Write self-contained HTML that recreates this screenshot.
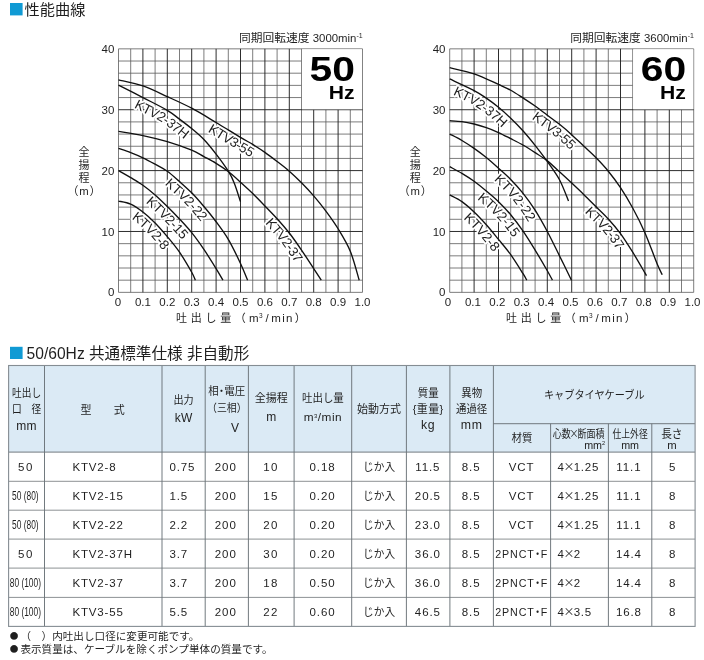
<!DOCTYPE html>
<html lang="ja">
<head>
<meta charset="utf-8">
<title>性能曲線・標準仕様</title>
<style>
html,body{margin:0;padding:0;background:#fff;}
body{width:704px;height:660px;overflow:hidden;}
svg{display:block;}
svg{will-change:transform;}
svg text{font-family:"Liberation Sans", "Noto Sans CJK JP", sans-serif;}
</style>
</head>
<body>
<svg width="704" height="660" viewBox="0 0 704 660">
<defs>
<path id="a-KTV2-37H" d="M112.58,96.65L114.05,97.39L115.92,98.35L118.13,99.47L120.60,100.73L123.27,102.09L126.06,103.51L128.89,104.96L131.69,106.40L134.40,107.79L136.93,109.10L139.47,110.41L142.08,111.74L144.71,113.08L147.34,114.41L149.92,115.73L152.42,117.02L154.79,118.27L157.00,119.45L158.98,120.54L160.69,121.53L162.13,122.40L163.34,123.18L164.39,123.89L165.32,124.57L166.21,125.24L167.11,125.95L168.08,126.72L169.15,127.58L170.36,128.53L171.69,129.56L172.94,130.49L174.15,131.39L175.35,132.29L176.54,133.19L177.71,134.07L178.86,134.96L180.01,135.85L181.14,136.75L182.26,137.66L183.38,138.58L184.60,139.60L185.80,140.60L186.97,141.59L188.12,142.56L189.23,143.53L190.32,144.50L191.39,145.47L192.44,146.47L193.47,147.48L194.50,148.53L195.56,149.66L196.64,150.85L197.74,152.10L198.85,153.41L199.98,154.76L201.12,156.16L202.28,157.59L203.44,159.06L204.62,160.57L205.80,162.10L207.01,163.67L208.25,165.31L209.52,167.01L210.79,168.73L212.04,170.45L213.25,172.14L214.41,173.79L215.48,175.35L216.45,176.81L217.29,178.12L218.05,179.35L218.69,180.42L219.22,181.35L219.67,182.19L220.08,182.98L220.46,183.79L220.86,184.67L221.30,185.68L221.78,186.85L222.32,188.19L222.84,189.56L223.45,191.24L224.10,193.15L224.78,195.18L225.46,197.26L226.11,199.30L226.72,201.24L227.28,202.99L227.76,204.50L228.16,205.73L228.16,205.73"/>
<path id="a-KTV3-55" d="M115.63,91.65L117.28,92.04L119.24,92.47L121.45,92.95L123.89,93.49L126.48,94.07L129.15,94.69L131.82,95.35L134.41,96.04L136.83,96.74L138.98,97.43L141.10,98.19L143.27,99.04L145.50,99.96L147.77,100.94L150.09,101.98L152.45,103.07L154.84,104.19L157.28,105.33L159.77,106.49L162.28,107.65L164.75,108.77L167.19,109.87L169.62,110.97L172.02,112.07L174.40,113.16L176.76,114.27L179.11,115.39L181.43,116.53L183.74,117.70L186.03,118.89L188.32,120.13L190.63,121.41L192.96,122.75L195.32,124.12L197.70,125.54L200.09,126.97L202.51,128.44L204.95,129.91L207.41,131.40L209.88,132.89L212.33,134.36L214.87,135.91L217.48,137.50L220.10,139.12L222.71,140.72L225.27,142.30L227.74,143.82L230.09,145.26L232.28,146.59L234.29,147.81L236.09,148.87L237.69,149.80L239.11,150.61L240.38,151.32L241.51,151.95L242.54,152.52L243.49,153.05L244.42,153.58L245.37,154.13L246.40,154.75L247.57,155.47L248.74,156.20L249.91,156.93L251.08,157.67L252.24,158.41L253.39,159.16L254.54,159.92L255.69,160.69L256.83,161.47L257.97,162.26L259.10,163.05L260.23,163.87L261.38,164.71L262.54,165.57L263.71,166.45L264.89,167.34L266.08,168.25L267.28,169.17L268.48,170.10L269.70,171.04L270.94,172.00L272.16,172.94L273.37,173.87L274.55,174.79L275.72,175.70L276.88,176.61L278.01,177.53L279.14,178.45L280.24,179.38L281.34,180.33L282.47,181.32L283.61,182.35L284.76,183.39L285.91,184.46L287.06,185.55L288.22,186.66L289.38,187.79L290.55,188.94L291.72,190.10L292.90,191.29L294.09,192.49L295.26,193.70L296.44,194.91L297.61,196.13L298.77,197.37L299.93,198.61L301.09,199.87L302.24,201.15L303.39,202.45L304.54,203.77L305.70,205.13L306.87,206.51L308.04,207.91L309.20,209.33L310.37,210.77L311.53,212.23L312.70,213.71L313.86,215.21L315.02,216.74L316.19,218.30L317.40,219.93L318.59,221.55L319.78,223.16L320.95,224.78L322.10,226.41L323.25,228.06L324.38,229.74L325.51,231.45L326.64,233.20L327.77,235.03L329.01,237.07L330.25,239.11L331.48,241.15L332.69,243.19L333.87,245.24L335.01,247.31L336.12,249.40L337.17,251.52L338.17,253.67L339.10,255.84L340.00,258.17L340.96,260.93L341.95,264.00L342.93,267.22L343.89,270.48L344.80,273.66L345.63,276.67L346.39,279.39L347.06,281.75L347.62,283.68L347.62,283.68"/>
<path id="a-KTV2-22" d="M114.53,159.81L115.33,160.09L116.30,160.41L117.40,160.79L118.63,161.20L119.93,161.64L121.28,162.10L122.64,162.58L123.97,163.05L125.22,163.50L126.35,163.93L127.50,164.38L128.66,164.84L129.82,165.30L130.96,165.77L132.10,166.25L133.24,166.73L134.37,167.22L135.49,167.72L136.61,168.23L137.72,168.75L138.81,169.28L139.92,169.83L141.04,170.39L142.18,170.98L143.33,171.59L144.50,172.21L145.67,172.84L146.86,173.49L148.06,174.15L149.29,174.82L150.61,175.54L151.89,176.22L153.12,176.86L154.29,177.48L155.40,178.08L156.46,178.67L157.48,179.26L158.45,179.85L159.38,180.45L160.29,181.07L161.23,181.76L162.22,182.53L163.25,183.37L164.33,184.27L165.44,185.23L166.59,186.24L167.77,187.29L168.97,188.38L170.21,189.49L171.47,190.61L172.71,191.71L173.93,192.78L175.13,193.84L176.31,194.89L177.47,195.94L178.61,196.99L179.74,198.04L180.86,199.10L181.96,200.18L183.05,201.28L184.16,202.43L185.29,203.63L186.42,204.86L187.57,206.13L188.73,207.43L189.90,208.76L191.08,210.12L192.26,211.50L193.45,212.90L194.65,214.32L195.85,215.75L197.05,217.17L198.23,218.60L199.41,220.04L200.59,221.48L201.76,222.94L202.92,224.41L204.08,225.90L205.23,227.41L206.39,228.96L207.62,230.61L208.84,232.24L210.03,233.84L211.19,235.43L212.34,237.02L213.46,238.63L214.58,240.26L215.68,241.94L216.77,243.68L217.86,245.50L218.98,247.46L220.16,249.63L221.39,251.96L222.64,254.38L223.89,256.87L225.12,259.36L226.32,261.83L227.47,264.22L228.56,266.49L229.55,268.59L230.43,270.48L231.28,272.38L232.09,274.27L232.87,276.11L233.60,277.88L234.28,279.56L234.90,281.11L235.46,282.52L235.97,283.77L236.42,284.85L236.42,284.85"/>
<path id="a-KTV2-15" d="M112.49,181.10L113.25,181.54L114.20,182.07L115.31,182.70L116.54,183.40L117.86,184.14L119.23,184.93L120.62,185.72L121.99,186.51L123.29,187.27L124.50,187.99L125.75,188.73L126.98,189.46L128.19,190.18L129.36,190.88L130.51,191.57L131.63,192.26L132.73,192.95L133.80,193.65L134.86,194.35L135.89,195.08L136.98,195.86L138.08,196.67L139.19,197.52L140.31,198.38L141.43,199.27L142.56,200.19L143.70,201.13L144.84,202.09L145.99,203.06L147.14,204.06L148.25,205.05L149.38,206.07L150.52,207.12L151.67,208.20L152.83,209.30L154.01,210.43L155.19,211.58L156.39,212.75L157.59,213.94L158.81,215.13L160.00,216.32L161.20,217.50L162.39,218.69L163.58,219.89L164.76,221.09L165.94,222.31L167.12,223.53L168.30,224.75L169.48,225.99L170.65,227.25L171.88,228.56L173.09,229.86L174.29,231.15L175.47,232.43L176.63,233.70L177.78,234.98L178.92,236.27L180.04,237.57L181.15,238.90L182.26,240.26L183.39,241.69L184.54,243.17L185.69,244.68L186.84,246.24L188.01,247.83L189.17,249.45L190.35,251.10L191.52,252.79L192.71,254.50L193.89,256.23L195.06,257.98L196.29,259.85L197.55,261.79L198.83,263.79L200.10,265.79L201.35,267.79L202.56,269.73L203.72,271.60L204.81,273.35L205.81,274.97L206.70,276.42L207.55,277.82L208.35,279.17L209.11,280.46L209.82,281.67L210.47,282.80L211.07,283.84L211.61,284.77L212.09,285.60L212.50,286.31L212.50,286.31"/>
<path id="a-KTV2-8" d="M115.70,212.81L116.85,213.06L117.98,213.28L119.10,213.48L120.25,213.69L121.40,213.92L122.53,214.16L123.59,214.42L124.53,214.68L125.27,214.93L125.78,215.13L126.49,215.48L127.31,215.91L128.18,216.41L129.11,216.98L130.08,217.61L131.10,218.30L132.15,219.05L133.23,219.85L134.35,220.69L135.49,221.56L136.56,222.40L137.63,223.27L138.71,224.18L139.80,225.12L140.90,226.10L142.01,227.11L143.12,228.15L144.24,229.23L145.37,230.33L146.50,231.46L147.60,232.59L148.72,233.77L149.84,234.98L150.98,236.24L152.13,237.53L153.29,238.85L154.46,240.20L155.64,241.58L156.82,242.98L158.02,244.41L159.25,245.88L160.46,247.32L161.65,248.75L162.82,250.17L163.97,251.59L165.10,253.02L166.22,254.46L167.33,255.94L168.43,257.45L169.52,259.01L170.64,260.69L171.87,262.59L173.15,264.63L174.45,266.75L175.75,268.90L177.01,271.03L178.21,273.08L179.33,275.00L180.32,276.73L181.16,278.21L181.77,279.30L182.24,280.20L182.60,280.96L182.89,281.58L183.11,282.10L183.30,282.56L183.48,283.04L183.69,283.60L183.97,284.32L184.33,285.15L184.33,285.15"/>
<path id="a-KTV2-37" d="M116.44,143.26L117.98,143.52L119.88,143.83L122.09,144.19L124.55,144.59L127.19,145.02L129.93,145.48L132.70,145.96L135.43,146.46L138.02,146.95L140.40,147.44L142.77,147.94L145.14,148.47L147.50,149.00L149.86,149.55L152.21,150.12L154.54,150.71L156.88,151.32L159.20,151.95L161.52,152.60L163.83,153.28L166.19,154.00L168.66,154.78L171.18,155.61L173.73,156.47L176.26,157.34L178.72,158.22L181.09,159.08L183.31,159.91L185.34,160.70L187.12,161.41L188.55,162.01L189.75,162.56L190.78,163.06L191.69,163.54L192.57,164.03L193.47,164.55L194.45,165.13L195.54,165.78L196.78,166.49L198.16,167.25L199.45,167.94L200.69,168.60L201.91,169.24L203.11,169.87L204.28,170.50L205.43,171.11L206.55,171.73L207.65,172.35L208.73,172.98L209.80,173.63L210.96,174.34L212.12,175.06L213.26,175.78L214.39,176.50L215.50,177.24L216.60,177.98L217.69,178.73L218.77,179.49L219.84,180.28L220.89,181.08L221.93,181.90L222.99,182.77L224.08,183.69L225.20,184.67L226.35,185.68L227.52,186.73L228.71,187.81L229.92,188.91L231.16,190.03L232.41,191.16L233.63,192.26L234.84,193.35L236.04,194.43L237.24,195.52L238.42,196.60L239.60,197.69L240.78,198.78L241.94,199.88L243.11,200.98L244.26,202.10L245.41,203.23L246.57,204.38L247.74,205.56L248.92,206.77L250.11,207.99L251.31,209.23L252.52,210.49L253.73,211.76L254.96,213.03L256.20,214.31L257.44,215.60L258.67,216.86L259.89,218.12L261.10,219.36L262.30,220.59L263.48,221.82L264.65,223.05L265.81,224.29L266.97,225.53L268.12,226.80L269.31,228.13L270.51,229.46L271.69,230.80L272.87,232.14L274.03,233.48L275.19,234.83L276.34,236.20L277.48,237.58L278.62,238.99L279.75,240.43L280.89,241.91L282.03,243.43L283.19,245.00L284.36,246.61L285.53,248.25L286.71,249.93L287.90,251.64L289.10,253.37L290.31,255.12L291.51,256.87L292.71,258.63L293.94,260.47L295.20,262.38L296.48,264.32L297.75,266.27L299.00,268.20L300.23,270.09L301.41,271.91L302.53,273.63L303.58,275.24L304.56,276.73L305.51,278.18L306.42,279.58L307.29,280.92L308.12,282.17L308.87,283.33L309.57,284.39L310.18,285.33L310.70,286.14L311.14,286.80L311.14,286.80"/>
<path id="b-KTV2-37H" d="M444.20,90.65L445.76,91.38L447.80,92.33L450.20,93.44L452.86,94.67L455.69,95.98L458.56,97.33L461.36,98.65L463.98,99.91L466.28,101.04L468.12,101.98L469.65,102.80L470.96,103.52L472.07,104.17L473.05,104.76L473.94,105.33L474.81,105.90L475.71,106.52L476.69,107.19L477.78,107.95L478.99,108.79L480.15,109.59L481.29,110.39L482.43,111.20L483.56,112.02L484.69,112.86L485.82,113.71L486.94,114.57L488.06,115.45L489.18,116.34L490.30,117.25L491.42,118.18L492.55,119.14L493.68,120.12L494.82,121.12L495.96,122.14L497.11,123.19L498.27,124.25L499.43,125.33L500.59,126.43L501.76,127.55L502.94,128.69L504.12,129.83L505.29,130.98L506.45,132.14L507.60,133.30L508.75,134.48L509.90,135.68L511.04,136.89L512.18,138.11L513.31,139.36L514.45,140.64L515.60,141.94L516.75,143.28L517.91,144.65L519.08,146.05L520.25,147.47L521.43,148.91L522.61,150.37L523.80,151.86L525.00,153.36L526.19,154.87L527.38,156.38L528.57,157.90L529.75,159.44L530.93,160.98L532.10,162.54L533.28,164.11L534.45,165.70L535.61,167.30L536.79,168.95L538.06,170.73L539.33,172.49L540.59,174.23L541.81,175.94L543.00,177.63L544.14,179.30L545.24,180.96L546.27,182.60L547.24,184.22L548.13,185.82L548.98,187.49L549.91,189.47L550.88,191.67L551.85,193.98L552.80,196.33L553.71,198.62L554.56,200.79L555.33,202.78L556.02,204.53L556.62,206.01L556.62,206.01"/>
<path id="b-KTV3-55" d="M446.83,79.48L448.48,79.86L450.44,80.30L452.65,80.78L455.09,81.31L457.68,81.89L460.35,82.52L463.02,83.18L465.61,83.87L468.03,84.56L470.18,85.26L472.31,86.03L474.62,86.94L477.05,87.95L479.53,89.03L482.04,90.16L484.52,91.31L486.94,92.44L489.27,93.53L491.48,94.56L493.53,95.49L495.28,96.28L496.80,96.95L498.11,97.54L499.26,98.06L500.28,98.52L501.19,98.95L502.06,99.37L502.92,99.81L503.85,100.29L504.87,100.85L505.91,101.43L506.97,102.05L508.06,102.70L509.17,103.39L510.31,104.11L511.46,104.85L512.64,105.61L513.85,106.40L515.07,107.20L516.31,108.00L517.51,108.79L518.71,109.57L519.90,110.35L521.08,111.13L522.26,111.92L523.44,112.71L524.61,113.51L525.77,114.31L526.93,115.12L528.09,115.93L529.22,116.75L530.36,117.58L531.53,118.44L532.70,119.33L533.89,120.22L535.10,121.14L536.31,122.07L537.55,123.00L538.79,123.94L540.05,124.89L541.32,125.84L542.58,126.76L543.81,127.67L545.03,128.56L546.23,129.44L547.41,130.31L548.57,131.18L549.71,132.04L550.84,132.91L551.96,133.79L553.11,134.73L554.28,135.67L555.44,136.63L556.61,137.60L557.77,138.58L558.94,139.58L560.11,140.59L561.28,141.61L562.44,142.64L563.61,143.68L564.74,144.71L565.89,145.77L567.05,146.86L568.23,147.98L569.42,149.12L570.62,150.28L571.84,151.45L573.07,152.64L574.32,153.83L575.58,155.03L576.85,156.24L578.11,157.41L579.35,158.55L580.57,159.68L581.76,160.78L582.94,161.88L584.09,162.97L585.23,164.06L586.34,165.16L587.46,166.28L588.64,167.50L589.82,168.72L590.99,169.94L592.15,171.17L593.30,172.41L594.44,173.66L595.57,174.92L596.70,176.21L597.82,177.53L598.94,178.88L600.10,180.30L601.26,181.75L602.41,183.22L603.56,184.71L604.71,186.23L605.85,187.78L606.99,189.36L608.13,190.98L609.27,192.63L610.41,194.33L611.57,196.10L612.73,197.90L613.89,199.74L615.06,201.63L616.22,203.55L617.39,205.51L618.55,207.52L619.72,209.57L620.89,211.66L622.06,213.80L623.25,216.02L624.44,218.25L625.63,220.50L626.80,222.79L627.98,225.11L629.15,227.48L630.32,229.90L631.49,232.38L632.65,234.93L633.81,237.54L634.98,240.28L636.23,243.33L637.52,246.58L638.83,249.96L640.13,253.38L641.42,256.75L642.65,260.01L643.82,263.06L644.91,265.86L645.91,268.34L646.80,270.45L647.60,272.30L648.33,273.92L648.99,275.33L649.59,276.54L650.11,277.58L650.55,278.43L650.90,279.09L651.13,279.56L651.29,279.88L651.29,279.88"/>
<path id="b-KTV2-22" d="M444.12,144.81L444.94,145.23L445.92,145.73L447.03,146.29L448.25,146.90L449.54,147.55L450.87,148.24L452.21,148.94L453.50,149.63L454.71,150.29L455.79,150.91L456.89,151.56L458.00,152.24L459.13,152.94L460.26,153.66L461.39,154.39L462.54,155.14L463.69,155.91L464.84,156.69L466.00,157.49L467.17,158.30L468.34,159.12L469.50,159.95L470.66,160.78L471.82,161.62L472.97,162.48L474.12,163.34L475.26,164.21L476.40,165.10L477.54,166.00L478.68,166.91L479.79,167.83L480.92,168.77L482.07,169.75L483.22,170.75L484.39,171.78L485.57,172.82L486.77,173.89L487.97,174.97L489.19,176.06L490.42,177.17L491.67,178.29L492.91,179.39L494.12,180.47L495.31,181.53L496.48,182.58L497.63,183.63L498.76,184.67L499.87,185.73L500.97,186.80L502.06,187.89L503.21,189.08L504.37,190.29L505.52,191.51L506.66,192.75L507.80,194.00L508.93,195.27L510.06,196.57L511.18,197.90L512.30,199.25L513.43,200.65L514.58,202.12L515.74,203.61L516.89,205.13L518.04,206.67L519.18,208.24L520.33,209.85L521.47,211.49L522.61,213.17L523.75,214.89L524.89,216.66L526.03,218.48L527.18,220.36L528.34,222.31L529.51,224.30L530.68,226.35L531.86,228.44L533.05,230.57L534.24,232.74L535.43,234.94L536.63,237.17L537.80,239.39L538.98,241.67L540.17,244.01L541.36,246.40L542.57,248.82L543.78,251.28L544.99,253.75L546.21,256.24L547.44,258.72L548.66,261.20L549.91,263.73L551.24,266.43L552.62,269.23L554.01,272.06L555.37,274.85L556.68,277.51L557.89,279.98L558.97,282.18L559.88,284.05L560.59,285.51L560.59,285.51"/>
<path id="b-KTV2-15" d="M443.90,177.26L444.71,177.70L445.67,178.22L446.78,178.80L448.00,179.46L449.31,180.15L450.65,180.88L452.01,181.62L453.33,182.36L454.57,183.07L455.70,183.73L456.86,184.43L458.03,185.14L459.18,185.85L460.32,186.56L461.46,187.29L462.59,188.02L463.70,188.76L464.81,189.51L465.91,190.27L467.01,191.06L468.09,191.85L469.19,192.69L470.31,193.55L471.45,194.44L472.60,195.37L473.76,196.31L474.94,197.28L476.13,198.26L477.33,199.26L478.54,200.28L479.78,201.31L480.99,202.32L482.19,203.32L483.37,204.31L484.52,205.29L485.66,206.28L486.78,207.27L487.89,208.27L488.98,209.28L490.07,210.32L491.21,211.45L492.36,212.59L493.50,213.75L494.64,214.93L495.77,216.12L496.90,217.34L498.03,218.59L499.16,219.86L500.29,221.16L501.41,222.49L502.55,223.87L503.70,225.29L504.85,226.73L506.00,228.21L507.15,229.72L508.30,231.26L509.46,232.83L510.62,234.44L511.78,236.08L512.94,237.74L514.09,239.42L515.24,241.15L516.41,242.93L517.58,244.75L518.76,246.62L519.95,248.52L521.15,250.45L522.35,252.40L523.56,254.37L524.78,256.35L526.00,258.36L527.27,260.48L528.58,262.67L529.90,264.90L531.21,267.12L532.48,269.30L533.70,271.39L534.84,273.36L535.89,275.17L536.81,276.77L537.59,278.13L538.28,279.37L538.90,280.49L539.45,281.51L539.93,282.42L540.37,283.24L540.76,283.99L541.11,284.67L541.45,285.32L541.78,285.92L541.78,285.92"/>
<path id="b-KTV2-8" d="M443.95,205.60L444.91,206.10L445.96,206.63L447.07,207.18L448.26,207.78L449.49,208.41L450.74,209.06L451.96,209.72L453.11,210.38L454.13,211.01L454.99,211.58L455.94,212.26L456.94,213.02L457.97,213.83L459.03,214.70L460.11,215.61L461.21,216.57L462.32,217.57L463.46,218.61L464.61,219.68L465.77,220.77L466.89,221.84L468.01,222.94L469.14,224.08L470.27,225.25L471.42,226.45L472.58,227.68L473.74,228.93L474.91,230.21L476.08,231.51L477.26,232.82L478.40,234.12L479.55,235.45L480.72,236.82L481.89,238.21L483.07,239.64L484.27,241.09L485.47,242.56L486.68,244.04L487.90,245.54L489.14,247.05L490.40,248.59L491.65,250.09L492.88,251.55L494.08,252.99L495.25,254.42L496.41,255.83L497.54,257.25L498.66,258.69L499.77,260.15L500.86,261.65L501.99,263.26L503.21,265.07L504.49,267.01L505.80,269.02L507.10,271.06L508.38,273.07L509.59,275.01L510.72,276.83L511.75,278.48L512.65,279.92L513.35,281.03L513.91,281.95L514.37,282.73L514.75,283.37L515.05,283.90L515.30,284.36L515.53,284.78L515.76,285.21L516.03,285.70L516.32,286.22L516.32,286.22"/>
<path id="b-KTV2-37" d="M448.84,132.75L449.71,132.81L450.71,132.86L451.82,132.92L453.02,132.99L454.30,133.06L455.61,133.15L456.91,133.24L458.15,133.35L459.29,133.46L460.27,133.59L461.30,133.73L462.36,133.90L463.43,134.09L464.51,134.29L465.60,134.50L466.69,134.73L467.80,134.97L468.91,135.23L470.04,135.49L471.17,135.77L472.28,136.05L473.39,136.35L474.50,136.65L475.62,136.97L476.73,137.30L477.84,137.64L478.96,137.99L480.08,138.35L481.19,138.72L482.31,139.11L483.43,139.50L484.55,139.91L485.67,140.33L486.79,140.76L487.91,141.20L489.04,141.66L490.16,142.12L491.29,142.60L492.42,143.09L493.54,143.59L494.61,144.08L495.71,144.60L496.82,145.14L497.96,145.70L499.12,146.29L500.29,146.89L501.49,147.51L502.70,148.13L503.94,148.77L505.19,149.41L506.44,150.05L507.68,150.68L508.89,151.29L510.09,151.90L511.26,152.50L512.42,153.10L513.56,153.70L514.68,154.30L515.79,154.91L516.88,155.53L517.99,156.17L519.11,156.84L520.24,157.53L521.39,158.24L522.55,158.96L523.72,159.70L524.90,160.46L526.10,161.23L527.30,162.01L528.52,162.80L529.81,163.62L531.06,164.42L532.27,165.19L533.45,165.94L534.59,166.68L535.70,167.41L536.77,168.13L537.81,168.87L538.83,169.61L539.82,170.37L540.82,171.18L541.86,172.05L542.94,172.99L544.05,173.99L545.19,175.04L546.37,176.13L547.57,177.26L548.80,178.41L550.06,179.58L551.35,180.76L552.56,181.87L553.77,182.97L554.98,184.08L556.18,185.19L557.39,186.30L558.60,187.42L559.81,188.54L561.02,189.66L562.23,190.79L563.43,191.92L564.65,193.06L565.87,194.19L567.08,195.33L568.29,196.46L569.49,197.60L570.69,198.74L571.89,199.88L573.08,201.02L574.27,202.17L575.46,203.32L576.64,204.47L577.83,205.64L579.02,206.83L580.22,208.02L581.43,209.23L582.64,210.45L583.86,211.68L585.08,212.91L586.31,214.15L587.56,215.39L588.85,216.66L590.11,217.90L591.36,219.10L592.57,220.28L593.76,221.43L594.92,222.57L596.06,223.70L597.18,224.83L598.27,225.98L599.36,227.15L600.54,228.45L601.71,229.76L602.87,231.07L604.02,232.38L605.16,233.72L606.29,235.07L607.42,236.44L608.53,237.85L609.64,239.29L610.75,240.77L611.86,242.31L612.99,243.92L614.13,245.59L615.28,247.32L616.45,249.10L617.63,250.92L618.81,252.79L620.01,254.69L621.21,256.61L622.42,258.55L623.63,260.53L624.93,262.68L626.29,264.96L627.66,267.29L629.02,269.61L630.33,271.86L631.56,273.98L632.67,275.90L633.64,277.58L634.44,278.96L635.00,279.92L635.37,280.56L635.55,280.89L635.52,280.82L635.03,279.70L643.55,263.81L654.36,266.47L653.68,265.90L634.63,278.64L635.62,281.18L635.62,281.18"/>
</defs>
<rect width="704" height="660" fill="#fff"/>
<g fill="#1f1f1f">
<rect x="10" y="3" width="12.6" height="12.4" fill="#109ad4"/>
<text x="24.60" y="15.20" font-size="15.2">性能曲線</text>
<path d="M118.50,48.85V292.35M130.70,48.85V292.35M155.10,48.85V292.35M179.50,48.85V292.35M203.90,48.85V292.35M228.30,48.85V292.35M252.70,48.85V292.35M277.10,48.85V292.35M301.50,48.85V292.35M325.90,109.73V292.35M350.30,109.73V292.35M362.50,48.85V292.35M118.5,292.35H362.50M118.5,280.18H362.50M118.5,268.00H362.50M118.5,255.83H362.50M118.5,243.65H362.50M118.5,219.30H362.50M118.5,207.13H362.50M118.5,194.95H362.50M118.5,182.78H362.50M118.5,158.43H362.50M118.5,146.25H362.50M118.5,134.08H362.50M118.5,121.90H362.50M118.5,97.55H301.50M118.5,85.38H301.50M118.5,73.20H301.50M118.5,61.03H301.50M118.5,48.85H362.50" stroke="#5c5c5c" stroke-width="0.8" fill="none"/>
<path d="M142.90,48.85V292.35M167.30,48.85V292.35M191.70,48.85V292.35M216.10,48.85V292.35M240.50,48.85V292.35M264.90,48.85V292.35M289.30,48.85V292.35M313.70,109.73V292.35M338.10,109.73V292.35M118.5,231.48H362.50M118.5,170.60H362.50M118.5,109.73H362.50" stroke="#222" stroke-width="0.95" fill="none"/>
<rect x="301.95" y="49.30" width="60.10" height="59.93" fill="#fff"/>
<text font-size="13.5" letter-spacing="-0.45" fill="#fff" stroke="#fff" stroke-width="3.6" stroke-linejoin="round"><textPath href="#a-KTV2-37H" startOffset="23.82">KTV2-37H</textPath></text>
<text font-size="13.5" letter-spacing="-0.5" fill="#fff" stroke="#fff" stroke-width="3.6" stroke-linejoin="round"><textPath href="#a-KTV3-55" startOffset="100.68">KTV3-55</textPath></text>
<text font-size="13.5" letter-spacing="-0.15" fill="#fff" stroke="#fff" stroke-width="3.6" stroke-linejoin="round"><textPath href="#a-KTV2-22" startOffset="55.97">KTV2-22</textPath></text>
<text font-size="13.5" letter-spacing="-0.15" fill="#fff" stroke="#fff" stroke-width="3.6" stroke-linejoin="round"><textPath href="#a-KTV2-15" startOffset="39.50">KTV2-15</textPath></text>
<text font-size="13.5" letter-spacing="-0.15" fill="#fff" stroke="#fff" stroke-width="3.6" stroke-linejoin="round"><textPath href="#a-KTV2-8" startOffset="17.04">KTV2-8</textPath></text>
<text font-size="13.5" letter-spacing="-0.5" fill="#fff" stroke="#fff" stroke-width="3.6" stroke-linejoin="round"><textPath href="#a-KTV2-37" startOffset="173.48">KTV2-37</textPath></text>
<path d="M118.50,79.90C122.57,80.91 134.77,83.19 142.90,85.98C151.03,88.77 159.17,92.93 167.30,96.64C175.43,100.34 183.57,103.89 191.70,108.20C199.83,112.52 207.97,117.64 216.10,122.51C224.23,127.38 234.40,133.77 240.50,137.42C246.60,141.08 248.63,141.94 252.70,144.42C256.77,146.91 260.83,149.50 264.90,152.34C268.97,155.18 273.03,158.32 277.10,161.47C281.17,164.61 285.23,167.66 289.30,171.21C293.37,174.76 297.43,178.67 301.50,182.78C305.57,186.88 309.63,191.15 313.70,195.86C317.77,200.58 321.83,205.60 325.90,211.08C329.97,216.56 334.03,222.04 338.10,228.74C342.17,235.43 346.78,242.69 350.30,251.26C353.82,259.83 357.72,275.36 359.21,280.18" stroke="#111" stroke-width="1.35" fill="none"/>
<path d="M118.50,85.07C122.57,87.15 134.77,93.34 142.90,97.55C151.03,101.76 161.20,106.73 167.30,110.33C173.40,113.94 175.43,116.12 179.50,119.16C183.57,122.20 187.63,125.20 191.70,128.60C195.77,132.00 199.83,135.29 203.90,139.55C207.97,143.81 212.03,148.89 216.10,154.16C220.17,159.44 225.25,166.34 228.30,171.21C231.35,176.08 232.37,178.31 234.40,183.38C236.43,188.46 239.48,198.60 240.50,201.65" stroke="#111" stroke-width="1.35" fill="none"/>
<path d="M118.50,131.34C122.57,132.05 134.77,133.87 142.90,135.60C151.03,137.32 159.17,139.25 167.30,141.68C175.43,144.12 185.60,147.72 191.70,150.21C197.80,152.69 199.83,154.42 203.90,156.60C207.97,158.78 212.03,160.81 216.10,163.30C220.17,165.78 224.23,168.37 228.30,171.51C232.37,174.66 236.43,178.51 240.50,182.17C244.57,185.82 248.63,189.47 252.70,193.43C256.77,197.39 260.83,201.70 264.90,205.91C268.97,210.12 273.03,214.18 277.10,218.69C281.17,223.21 285.23,227.77 289.30,233.00C293.37,238.22 297.43,244.11 301.50,250.04C305.57,255.98 310.41,263.59 313.70,268.61C316.99,273.63 320.00,278.25 321.26,280.18" stroke="#111" stroke-width="1.35" fill="none"/>
<path d="M118.50,148.38C120.53,149.09 126.63,151.07 130.70,152.64C134.77,154.21 138.83,155.89 142.90,157.82C146.97,159.74 151.03,161.98 155.10,164.21C159.17,166.44 163.23,168.32 167.30,171.21C171.37,174.10 175.43,177.96 179.50,181.56C183.57,185.16 187.63,188.66 191.70,192.82C195.77,196.98 199.83,201.70 203.90,206.52C207.97,211.34 212.03,216.26 216.10,221.74C220.17,227.21 224.23,232.44 228.30,239.39C232.37,246.34 237.29,256.64 240.50,263.43C243.71,270.23 246.40,277.38 247.58,280.18" stroke="#111" stroke-width="1.35" fill="none"/>
<path d="M118.50,170.60C120.53,171.77 126.63,175.17 130.70,177.60C134.77,180.04 138.83,182.32 142.90,185.21C146.97,188.10 151.03,191.40 155.10,194.95C159.17,198.50 163.23,202.51 167.30,206.52C171.37,210.52 175.43,214.63 179.50,219.00C183.57,223.36 187.63,227.62 191.70,232.69C195.77,237.77 199.83,243.45 203.90,249.43C207.97,255.42 212.93,263.49 216.10,268.61C219.27,273.73 221.79,278.25 222.93,280.18" stroke="#111" stroke-width="1.35" fill="none"/>
<path d="M118.50,201.04C120.53,201.54 126.63,202.25 130.70,204.08C134.77,205.91 138.83,208.85 142.90,212.00C146.97,215.14 151.03,218.84 155.10,222.95C159.17,227.06 163.23,231.78 167.30,236.65C171.37,241.52 175.43,246.24 179.50,252.17C183.57,258.11 189.06,267.59 191.70,272.26C194.34,276.93 194.75,278.86 195.36,280.18" stroke="#111" stroke-width="1.35" fill="none"/>
<text font-size="13.5" letter-spacing="-0.45"><textPath href="#a-KTV2-37H" startOffset="23.82">KTV2-37H</textPath></text>
<text font-size="13.5" letter-spacing="-0.5"><textPath href="#a-KTV3-55" startOffset="100.68">KTV3-55</textPath></text>
<text font-size="13.5" letter-spacing="-0.15"><textPath href="#a-KTV2-22" startOffset="55.97">KTV2-22</textPath></text>
<text font-size="13.5" letter-spacing="-0.15"><textPath href="#a-KTV2-15" startOffset="39.50">KTV2-15</textPath></text>
<text font-size="13.5" letter-spacing="-0.15"><textPath href="#a-KTV2-8" startOffset="17.04">KTV2-8</textPath></text>
<text font-size="13.5" letter-spacing="-0.5"><textPath href="#a-KTV2-37" startOffset="173.48">KTV2-37</textPath></text>
<text x="114.30" y="296.45" text-anchor="end" font-size="11.5">0</text>
<text x="114.30" y="235.58" text-anchor="end" font-size="11.5">10</text>
<text x="114.30" y="174.70" text-anchor="end" font-size="11.5">20</text>
<text x="114.30" y="113.83" text-anchor="end" font-size="11.5">30</text>
<text x="114.30" y="52.95" text-anchor="end" font-size="11.5">40</text>
<text x="118.00" y="305.90" text-anchor="middle" font-size="11.5">0</text>
<text x="142.90" y="305.90" text-anchor="middle" font-size="11.5">0.1</text>
<text x="167.30" y="305.90" text-anchor="middle" font-size="11.5">0.2</text>
<text x="191.70" y="305.90" text-anchor="middle" font-size="11.5">0.3</text>
<text x="216.10" y="305.90" text-anchor="middle" font-size="11.5">0.4</text>
<text x="240.50" y="305.90" text-anchor="middle" font-size="11.5">0.5</text>
<text x="264.90" y="305.90" text-anchor="middle" font-size="11.5">0.6</text>
<text x="289.30" y="305.90" text-anchor="middle" font-size="11.5">0.7</text>
<text x="313.70" y="305.90" text-anchor="middle" font-size="11.5">0.8</text>
<text x="338.10" y="305.90" text-anchor="middle" font-size="11.5">0.9</text>
<text x="362.50" y="305.90" text-anchor="middle" font-size="11.5">1.0</text>
<text x="84.00" y="156.20" text-anchor="middle" font-size="11">全</text>
<text x="84.00" y="168.95" text-anchor="middle" font-size="11">揚</text>
<text x="84.00" y="181.70" text-anchor="middle" font-size="11">程</text>
<text x="84.40" y="194.60" text-anchor="middle" font-size="11.3" letter-spacing="0.8">（m）</text>
<text x="176.10" y="321.60" font-size="11" letter-spacing="3.7">吐出し量</text>
<text x="234.80" y="321.60" font-size="11">（</text>
<text x="248.90" y="321.60" font-size="11.5">m</text>
<text x="258.90" y="317.60" font-size="6.5">3</text>
<text x="265.50" y="321.60" font-size="11.5">/</text>
<text x="271.30" y="321.60" font-size="11.5" letter-spacing="1.3">min</text>
<text x="294.70" y="321.60" font-size="11">）</text>
<text x="362.70" y="42.30" text-anchor="end" font-size="11.4"><tspan font-size="11.75">同期回転速度</tspan> 3000min<tspan dy="-4" font-size="7">-1</tspan></text>
<text transform="translate(354.90,80.50) scale(1.19,1)" text-anchor="end" font-size="34.3" font-weight="bold" fill="#000">50</text>
<text transform="translate(354.50,99.30) scale(1.1,1)" text-anchor="end" font-size="19.2" font-weight="bold" fill="#000">Hz</text>
<path d="M449.70,48.85V292.35M461.90,48.85V292.35M486.30,48.85V292.35M510.70,48.85V292.35M535.10,48.85V292.35M559.50,48.85V292.35M583.90,48.85V292.35M608.30,48.85V292.35M632.70,48.85V292.35M657.10,109.73V292.35M681.50,109.73V292.35M693.70,48.85V292.35M449.7,292.35H693.70M449.7,280.18H693.70M449.7,268.00H693.70M449.7,255.83H693.70M449.7,243.65H693.70M449.7,219.30H693.70M449.7,207.13H693.70M449.7,194.95H693.70M449.7,182.78H693.70M449.7,158.43H693.70M449.7,146.25H693.70M449.7,134.08H693.70M449.7,121.90H693.70M449.7,97.55H632.70M449.7,85.38H632.70M449.7,73.20H632.70M449.7,61.03H632.70M449.7,48.85H693.70" stroke="#5c5c5c" stroke-width="0.8" fill="none"/>
<path d="M474.10,48.85V292.35M498.50,48.85V292.35M522.90,48.85V292.35M547.30,48.85V292.35M571.70,48.85V292.35M596.10,48.85V292.35M620.50,48.85V292.35M644.90,109.73V292.35M669.30,109.73V292.35M449.7,231.48H693.70M449.7,170.60H693.70M449.7,109.73H693.70" stroke="#222" stroke-width="0.95" fill="none"/>
<rect x="633.15" y="49.30" width="60.10" height="59.93" fill="#fff"/>
<text font-size="13.5" letter-spacing="-0.45" fill="#fff" stroke="#fff" stroke-width="3.6" stroke-linejoin="round"><textPath href="#b-KTV2-37H" startOffset="9.48">KTV2-37H</textPath></text>
<text font-size="13.5" letter-spacing="-0.5" fill="#fff" stroke="#fff" stroke-width="3.6" stroke-linejoin="round"><textPath href="#b-KTV3-55" startOffset="94.03">KTV3-55</textPath></text>
<text font-size="13.5" letter-spacing="0.3" fill="#fff" stroke="#fff" stroke-width="3.6" stroke-linejoin="round"><textPath href="#b-KTV2-22" startOffset="61.11">KTV2-22</textPath></text>
<text font-size="13.5" letter-spacing="0.0" fill="#fff" stroke="#fff" stroke-width="3.6" stroke-linejoin="round"><textPath href="#b-KTV2-15" startOffset="39.69">KTV2-15</textPath></text>
<text font-size="13.5" letter-spacing="-0.1" fill="#fff" stroke="#fff" stroke-width="3.6" stroke-linejoin="round"><textPath href="#b-KTV2-8" startOffset="23.36">KTV2-8</textPath></text>
<text font-size="13.5" letter-spacing="-0.5" fill="#fff" stroke="#fff" stroke-width="3.6" stroke-linejoin="round"><textPath href="#b-KTV2-37" startOffset="161.17">KTV2-37</textPath></text>
<path d="M449.70,67.72C453.77,68.74 465.97,71.02 474.10,73.81C482.23,76.60 492.40,81.72 498.50,84.46C504.60,87.20 506.63,88.01 510.70,90.24C514.77,92.48 518.83,95.22 522.90,97.85C526.97,100.49 531.03,103.18 535.10,106.07C539.17,108.96 543.23,112.16 547.30,115.20C551.37,118.25 555.43,121.09 559.50,124.34C563.57,127.58 567.63,131.03 571.70,134.68C575.77,138.34 579.83,142.39 583.90,146.25C587.97,150.11 592.03,153.66 596.10,157.82C600.17,161.98 604.23,166.24 608.30,171.21C612.37,176.18 616.43,181.51 620.50,187.65C624.57,193.78 628.63,200.53 632.70,208.04C636.77,215.55 640.83,223.41 644.90,232.69C648.97,241.98 654.21,256.74 657.10,263.74C659.99,270.74 661.37,272.87 662.22,274.70" stroke="#111" stroke-width="1.35" fill="none"/>
<path d="M449.70,78.98C453.77,80.91 468.00,87.35 474.10,90.55C480.20,93.75 482.23,95.37 486.30,98.16C490.37,100.95 494.43,103.94 498.50,107.29C502.57,110.64 506.63,114.34 510.70,118.25C514.77,122.15 518.83,126.21 522.90,130.73C526.97,135.24 531.03,140.21 535.10,145.34C539.17,150.46 543.23,155.74 547.30,161.47C551.37,167.20 555.96,173.14 559.50,179.73C563.04,186.33 567.02,197.49 568.53,201.04" stroke="#111" stroke-width="1.35" fill="none"/>
<path d="M449.70,120.68C451.73,120.83 457.83,121.04 461.90,121.60C465.97,122.15 470.03,123.02 474.10,124.03C478.17,125.05 482.23,126.26 486.30,127.68C490.37,129.10 494.43,130.73 498.50,132.55C502.57,134.38 506.63,136.56 510.70,138.64C514.77,140.72 518.83,142.70 522.90,145.03C526.97,147.37 531.03,150.00 535.10,152.64C539.17,155.28 543.23,157.66 547.30,160.86C551.37,164.06 555.43,168.11 559.50,171.82C563.57,175.52 567.63,179.27 571.70,183.08C575.77,186.88 579.83,190.69 583.90,194.65C587.97,198.60 592.03,202.76 596.10,206.82C600.17,210.88 604.23,214.53 608.30,219.00C612.37,223.46 616.43,228.08 620.50,233.61C624.57,239.14 628.63,245.63 632.70,252.17C636.77,258.72 642.62,268.96 644.90,272.87C647.18,276.78 646.12,275.15 646.36,275.61" stroke="#111" stroke-width="1.35" fill="none"/>
<path d="M449.70,134.08C451.73,135.14 457.83,138.08 461.90,140.47C465.97,142.85 470.03,145.54 474.10,148.38C478.17,151.22 482.23,154.21 486.30,157.51C490.37,160.81 494.43,164.51 498.50,168.17C502.57,171.82 506.63,175.27 510.70,179.43C514.77,183.59 518.83,188.00 522.90,193.12C526.97,198.25 531.03,203.78 535.10,210.17C539.17,216.56 543.23,223.87 547.30,231.48C551.37,239.08 555.47,247.71 559.50,255.83C563.53,263.94 569.46,276.12 571.46,280.18" stroke="#111" stroke-width="1.35" fill="none"/>
<path d="M449.70,166.64C451.73,167.76 457.83,170.90 461.90,173.34C465.97,175.77 470.03,178.31 474.10,181.25C478.17,184.20 482.23,187.59 486.30,190.99C490.37,194.39 494.43,197.69 498.50,201.65C502.57,205.60 506.63,209.86 510.70,214.73C514.77,219.60 518.83,224.98 522.90,230.87C526.97,236.75 531.03,243.40 535.10,250.04C539.17,256.69 544.41,265.72 547.30,270.74C550.19,275.76 551.57,278.60 552.42,280.18" stroke="#111" stroke-width="1.35" fill="none"/>
<path d="M449.70,194.95C451.73,196.07 457.83,198.81 461.90,201.65C465.97,204.49 470.03,208.14 474.10,212.00C478.17,215.85 482.23,220.21 486.30,224.78C490.37,229.34 494.43,234.42 498.50,239.39C502.57,244.36 506.63,248.93 510.70,254.61C514.77,260.29 520.22,269.22 522.90,273.48C525.58,277.74 526.15,279.06 526.80,280.18" stroke="#111" stroke-width="1.35" fill="none"/>
<text font-size="13.5" letter-spacing="-0.45"><textPath href="#b-KTV2-37H" startOffset="9.48">KTV2-37H</textPath></text>
<text font-size="13.5" letter-spacing="-0.5"><textPath href="#b-KTV3-55" startOffset="94.03">KTV3-55</textPath></text>
<text font-size="13.5" letter-spacing="0.3"><textPath href="#b-KTV2-22" startOffset="61.11">KTV2-22</textPath></text>
<text font-size="13.5" letter-spacing="0.0"><textPath href="#b-KTV2-15" startOffset="39.69">KTV2-15</textPath></text>
<text font-size="13.5" letter-spacing="-0.1"><textPath href="#b-KTV2-8" startOffset="23.36">KTV2-8</textPath></text>
<text font-size="13.5" letter-spacing="-0.5"><textPath href="#b-KTV2-37" startOffset="161.17">KTV2-37</textPath></text>
<text x="445.50" y="296.45" text-anchor="end" font-size="11.5">0</text>
<text x="445.50" y="235.58" text-anchor="end" font-size="11.5">10</text>
<text x="445.50" y="174.70" text-anchor="end" font-size="11.5">20</text>
<text x="445.50" y="113.83" text-anchor="end" font-size="11.5">30</text>
<text x="445.50" y="52.95" text-anchor="end" font-size="11.5">40</text>
<text x="448.00" y="305.90" text-anchor="middle" font-size="11.5">0</text>
<text x="472.90" y="305.90" text-anchor="middle" font-size="11.5">0.1</text>
<text x="497.30" y="305.90" text-anchor="middle" font-size="11.5">0.2</text>
<text x="521.70" y="305.90" text-anchor="middle" font-size="11.5">0.3</text>
<text x="546.10" y="305.90" text-anchor="middle" font-size="11.5">0.4</text>
<text x="570.50" y="305.90" text-anchor="middle" font-size="11.5">0.5</text>
<text x="594.90" y="305.90" text-anchor="middle" font-size="11.5">0.6</text>
<text x="619.30" y="305.90" text-anchor="middle" font-size="11.5">0.7</text>
<text x="643.70" y="305.90" text-anchor="middle" font-size="11.5">0.8</text>
<text x="668.10" y="305.90" text-anchor="middle" font-size="11.5">0.9</text>
<text x="692.50" y="305.90" text-anchor="middle" font-size="11.5">1.0</text>
<text x="415.20" y="156.20" text-anchor="middle" font-size="11">全</text>
<text x="415.20" y="168.95" text-anchor="middle" font-size="11">揚</text>
<text x="415.20" y="181.70" text-anchor="middle" font-size="11">程</text>
<text x="415.60" y="194.60" text-anchor="middle" font-size="11.3" letter-spacing="0.8">（m）</text>
<text x="506.10" y="321.60" font-size="11" letter-spacing="3.7">吐出し量</text>
<text x="564.80" y="321.60" font-size="11">（</text>
<text x="578.90" y="321.60" font-size="11.5">m</text>
<text x="588.90" y="317.60" font-size="6.5">3</text>
<text x="595.50" y="321.60" font-size="11.5">/</text>
<text x="601.30" y="321.60" font-size="11.5" letter-spacing="1.3">min</text>
<text x="624.70" y="321.60" font-size="11">）</text>
<text x="693.90" y="42.30" text-anchor="end" font-size="11.4"><tspan font-size="11.75">同期回転速度</tspan> 3600min<tspan dy="-4" font-size="7">-1</tspan></text>
<text transform="translate(686.10,80.50) scale(1.19,1)" text-anchor="end" font-size="34.3" font-weight="bold" fill="#000">60</text>
<text transform="translate(685.70,99.30) scale(1.1,1)" text-anchor="end" font-size="19.2" font-weight="bold" fill="#000">Hz</text>
<rect x="10" y="346.8" width="12.6" height="12.2" fill="#109ad4"/>
<text x="26.60" y="359.30" font-size="15.6">50/60Hz 共通標準仕様 非自動形</text>
<rect x="8.6" y="365.5" width="686.5" height="86.60000000000002" fill="#dbeaf5"/>
<path d="M8.6,481.3H695.1M8.6,510.2H695.1M8.6,539.1H695.1M8.6,568.1H695.1M8.6,597.4H695.1" stroke="#808488" stroke-width="0.9" fill="none"/>
<path d="M44.5,365.5V626.4M162.0,365.5V626.4M205.2,365.5V626.4M248.4,365.5V626.4M294.1,365.5V626.4M351.7,365.5V626.4M406.4,365.5V626.4M449.9,365.5V626.4M493.4,365.5V626.4M550.6,423.7V626.4M608.4,423.7V626.4M651.8,423.7V626.4M493.4,423.7H695.1M8.6,452.1H695.1" stroke="#6a7378" stroke-width="0.95" fill="none"/>
<rect x="8.6" y="365.5" width="686.5" height="260.9" fill="none" stroke="#858d93" stroke-width="1.1"/>
<text transform="translate(26.55,396.60) scale(0.86,1)" text-anchor="middle" font-size="11.3">吐出し</text>
<text transform="translate(26.55,413.00) scale(0.86,1)" text-anchor="middle" font-size="11.3">口　径</text>
<text x="26.55" y="429.60" text-anchor="middle" font-size="12" letter-spacing="0.4">mm</text>
<text x="86.00" y="413.60" text-anchor="middle" font-size="11">型</text>
<text x="119.20" y="413.60" text-anchor="middle" font-size="11">式</text>
<text transform="translate(183.60,403.50) scale(0.92,1)" text-anchor="middle" font-size="11">出力</text>
<text x="183.60" y="421.50" text-anchor="middle" font-size="12" letter-spacing="0.3">kW</text>
<text transform="translate(226.80,395.30) scale(0.95,1)" text-anchor="middle" font-size="11">相<tspan dx="-2.6">・</tspan><tspan dx="-2.6">電圧</tspan></text>
<text transform="translate(226.80,412.30) scale(0.9,1)" text-anchor="middle" font-size="11">（三相）</text>
<text x="239.10" y="432.20" text-anchor="end" font-size="12">V</text>
<text x="271.25" y="402.30" text-anchor="middle" font-size="11">全揚程</text>
<text x="271.25" y="421.20" text-anchor="middle" font-size="12">m</text>
<text transform="translate(322.90,402.30) scale(0.95,1)" text-anchor="middle" font-size="11">吐出し量</text>
<text x="322.90" y="421.20" text-anchor="middle" font-size="11.8" letter-spacing="0.5">m<tspan dy="-3.5" font-size="6">3</tspan><tspan dy="3.5">/min</tspan></text>
<text x="379.05" y="413.20" text-anchor="middle" font-size="11">始動方式</text>
<text transform="translate(428.15,396.50) scale(0.95,1)" text-anchor="middle" font-size="11">質量</text>
<text x="428.15" y="413.20" text-anchor="middle" font-size="11" letter-spacing="0.4">{重量}</text>
<text x="428.15" y="429.30" text-anchor="middle" font-size="12.3" letter-spacing="0.6">kg</text>
<text transform="translate(471.65,396.50) scale(0.95,1)" text-anchor="middle" font-size="11">異物</text>
<text transform="translate(471.65,413.20) scale(0.95,1)" text-anchor="middle" font-size="11">通過径</text>
<text x="471.65" y="429.30" text-anchor="middle" font-size="12.3" letter-spacing="0.6">mm</text>
<text transform="translate(594.25,399.20) scale(0.925,1)" text-anchor="middle" font-size="11">キャブタイヤケーブル</text>
<text transform="translate(522.00,442.20) scale(0.95,1)" text-anchor="middle" font-size="11">材質</text>
<text transform="translate(604.60,438.20) scale(0.825,1)" text-anchor="end" font-size="11">心数<tspan font-family="Noto Sans CJK JP" dx="-1.5">×</tspan><tspan dx="-1.5">断面積</tspan></text>
<text transform="translate(605.20,448.80) scale(0.95,1)" text-anchor="end" font-size="11.3">mm<tspan dy="-3.8" font-size="6">2</tspan></text>
<text transform="translate(630.10,438.20) scale(0.8,1)" text-anchor="middle" font-size="11">仕上外径</text>
<text transform="translate(630.10,448.80) scale(0.95,1)" text-anchor="middle" font-size="11.3">mm</text>
<text transform="translate(671.85,438.40) scale(0.93,1)" text-anchor="middle" font-size="11.5">長さ</text>
<text x="671.85" y="448.80" text-anchor="middle" font-size="11.3">m</text>
<text x="25.95" y="471.00" text-anchor="middle" font-size="11.5" letter-spacing="1.6">50</text>
<text x="72.40" y="471.00" font-size="11.5" letter-spacing="0.85">KTV2-8</text>
<text x="169.40" y="471.00" font-size="11.5" letter-spacing="0.85">0.75</text>
<text x="225.80" y="471.00" text-anchor="middle" font-size="11.5" letter-spacing="1.0">200</text>
<text x="270.95" y="471.00" text-anchor="middle" font-size="11.5" letter-spacing="1.4">10</text>
<text x="322.50" y="471.00" text-anchor="middle" font-size="11.5" letter-spacing="0.9">0.18</text>
<text transform="translate(379.05,470.70) scale(0.97,1)" text-anchor="middle" font-size="11">じか入</text>
<text x="427.85" y="471.00" text-anchor="middle" font-size="11.5" letter-spacing="0.9">11.5</text>
<text x="471.15" y="471.00" text-anchor="middle" font-size="11.5" letter-spacing="0.9">8.5</text>
<text x="521.50" y="471.00" text-anchor="middle" font-size="11.5" letter-spacing="0.9">VCT</text>
<text x="557.60" y="471.00" font-size="11.5" letter-spacing="0.75">4<tspan font-family="Noto Sans CJK JP" dx="-1.2" font-size="11">×</tspan><tspan dx="-1.6">1.25</tspan></text>
<text x="628.90" y="471.00" text-anchor="middle" font-size="11.5" letter-spacing="0.9">11.1</text>
<text x="672.25" y="471.00" text-anchor="middle" font-size="11.5">5</text>
<text transform="translate(25.35,500.25) scale(0.7,1)" text-anchor="middle" font-size="12">50 (80)</text>
<text x="72.40" y="500.05" font-size="11.5" letter-spacing="0.85">KTV2-15</text>
<text x="169.40" y="500.05" font-size="11.5" letter-spacing="0.85">1.5</text>
<text x="225.80" y="500.05" text-anchor="middle" font-size="11.5" letter-spacing="1.0">200</text>
<text x="270.95" y="500.05" text-anchor="middle" font-size="11.5" letter-spacing="1.4">15</text>
<text x="322.50" y="500.05" text-anchor="middle" font-size="11.5" letter-spacing="0.9">0.20</text>
<text transform="translate(379.05,499.75) scale(0.97,1)" text-anchor="middle" font-size="11">じか入</text>
<text x="427.85" y="500.05" text-anchor="middle" font-size="11.5" letter-spacing="0.9">20.5</text>
<text x="471.15" y="500.05" text-anchor="middle" font-size="11.5" letter-spacing="0.9">8.5</text>
<text x="521.50" y="500.05" text-anchor="middle" font-size="11.5" letter-spacing="0.9">VCT</text>
<text x="557.60" y="500.05" font-size="11.5" letter-spacing="0.75">4<tspan font-family="Noto Sans CJK JP" dx="-1.2" font-size="11">×</tspan><tspan dx="-1.6">1.25</tspan></text>
<text x="628.90" y="500.05" text-anchor="middle" font-size="11.5" letter-spacing="0.9">11.1</text>
<text x="672.25" y="500.05" text-anchor="middle" font-size="11.5">8</text>
<text transform="translate(25.35,529.15) scale(0.7,1)" text-anchor="middle" font-size="12">50 (80)</text>
<text x="72.40" y="528.95" font-size="11.5" letter-spacing="0.85">KTV2-22</text>
<text x="169.40" y="528.95" font-size="11.5" letter-spacing="0.85">2.2</text>
<text x="225.80" y="528.95" text-anchor="middle" font-size="11.5" letter-spacing="1.0">200</text>
<text x="270.95" y="528.95" text-anchor="middle" font-size="11.5" letter-spacing="1.4">20</text>
<text x="322.50" y="528.95" text-anchor="middle" font-size="11.5" letter-spacing="0.9">0.20</text>
<text transform="translate(379.05,528.65) scale(0.97,1)" text-anchor="middle" font-size="11">じか入</text>
<text x="427.85" y="528.95" text-anchor="middle" font-size="11.5" letter-spacing="0.9">23.0</text>
<text x="471.15" y="528.95" text-anchor="middle" font-size="11.5" letter-spacing="0.9">8.5</text>
<text x="521.50" y="528.95" text-anchor="middle" font-size="11.5" letter-spacing="0.9">VCT</text>
<text x="557.60" y="528.95" font-size="11.5" letter-spacing="0.75">4<tspan font-family="Noto Sans CJK JP" dx="-1.2" font-size="11">×</tspan><tspan dx="-1.6">1.25</tspan></text>
<text x="628.90" y="528.95" text-anchor="middle" font-size="11.5" letter-spacing="0.9">11.1</text>
<text x="672.25" y="528.95" text-anchor="middle" font-size="11.5">8</text>
<text x="25.95" y="557.90" text-anchor="middle" font-size="11.5" letter-spacing="1.6">50</text>
<text x="72.40" y="557.90" font-size="11.5" letter-spacing="0.85">KTV2-37H</text>
<text x="169.40" y="557.90" font-size="11.5" letter-spacing="0.85">3.7</text>
<text x="225.80" y="557.90" text-anchor="middle" font-size="11.5" letter-spacing="1.0">200</text>
<text x="270.95" y="557.90" text-anchor="middle" font-size="11.5" letter-spacing="1.4">30</text>
<text x="322.50" y="557.90" text-anchor="middle" font-size="11.5" letter-spacing="0.9">0.20</text>
<text transform="translate(379.05,557.60) scale(0.97,1)" text-anchor="middle" font-size="11">じか入</text>
<text x="427.85" y="557.90" text-anchor="middle" font-size="11.5" letter-spacing="0.9">36.0</text>
<text x="471.15" y="557.90" text-anchor="middle" font-size="11.5" letter-spacing="0.9">8.5</text>
<text transform="translate(495.20,557.90) scale(0.93,1)" font-size="11.5" letter-spacing="0.95">2PNCT<tspan font-family="Noto Sans CJK JP" dx="-2.6">・</tspan><tspan dx="-3.4">F</tspan></text>
<text x="557.60" y="557.90" font-size="11.5" letter-spacing="0.75">4<tspan font-family="Noto Sans CJK JP" dx="-1.2" font-size="11">×</tspan><tspan dx="-1.6">2</tspan></text>
<text x="628.90" y="557.90" text-anchor="middle" font-size="11.5" letter-spacing="0.9">14.4</text>
<text x="672.25" y="557.90" text-anchor="middle" font-size="11.5">8</text>
<text transform="translate(25.35,587.25) scale(0.7,1)" text-anchor="middle" font-size="12">80 (100)</text>
<text x="72.40" y="587.05" font-size="11.5" letter-spacing="0.85">KTV2-37</text>
<text x="169.40" y="587.05" font-size="11.5" letter-spacing="0.85">3.7</text>
<text x="225.80" y="587.05" text-anchor="middle" font-size="11.5" letter-spacing="1.0">200</text>
<text x="270.95" y="587.05" text-anchor="middle" font-size="11.5" letter-spacing="1.4">18</text>
<text x="322.50" y="587.05" text-anchor="middle" font-size="11.5" letter-spacing="0.9">0.50</text>
<text transform="translate(379.05,586.75) scale(0.97,1)" text-anchor="middle" font-size="11">じか入</text>
<text x="427.85" y="587.05" text-anchor="middle" font-size="11.5" letter-spacing="0.9">36.0</text>
<text x="471.15" y="587.05" text-anchor="middle" font-size="11.5" letter-spacing="0.9">8.5</text>
<text transform="translate(495.20,587.05) scale(0.93,1)" font-size="11.5" letter-spacing="0.95">2PNCT<tspan font-family="Noto Sans CJK JP" dx="-2.6">・</tspan><tspan dx="-3.4">F</tspan></text>
<text x="557.60" y="587.05" font-size="11.5" letter-spacing="0.75">4<tspan font-family="Noto Sans CJK JP" dx="-1.2" font-size="11">×</tspan><tspan dx="-1.6">2</tspan></text>
<text x="628.90" y="587.05" text-anchor="middle" font-size="11.5" letter-spacing="0.9">14.4</text>
<text x="672.25" y="587.05" text-anchor="middle" font-size="11.5">8</text>
<text transform="translate(25.35,616.40) scale(0.7,1)" text-anchor="middle" font-size="12">80 (100)</text>
<text x="72.40" y="616.20" font-size="11.5" letter-spacing="0.85">KTV3-55</text>
<text x="169.40" y="616.20" font-size="11.5" letter-spacing="0.85">5.5</text>
<text x="225.80" y="616.20" text-anchor="middle" font-size="11.5" letter-spacing="1.0">200</text>
<text x="270.95" y="616.20" text-anchor="middle" font-size="11.5" letter-spacing="1.4">22</text>
<text x="322.50" y="616.20" text-anchor="middle" font-size="11.5" letter-spacing="0.9">0.60</text>
<text transform="translate(379.05,615.90) scale(0.97,1)" text-anchor="middle" font-size="11">じか入</text>
<text x="427.85" y="616.20" text-anchor="middle" font-size="11.5" letter-spacing="0.9">46.5</text>
<text x="471.15" y="616.20" text-anchor="middle" font-size="11.5" letter-spacing="0.9">8.5</text>
<text transform="translate(495.20,616.20) scale(0.93,1)" font-size="11.5" letter-spacing="0.95">2PNCT<tspan font-family="Noto Sans CJK JP" dx="-2.6">・</tspan><tspan dx="-3.4">F</tspan></text>
<text x="557.60" y="616.20" font-size="11.5" letter-spacing="0.75">4<tspan font-family="Noto Sans CJK JP" dx="-1.2" font-size="11">×</tspan><tspan dx="-1.6">3.5</tspan></text>
<text x="628.90" y="616.20" text-anchor="middle" font-size="11.5" letter-spacing="0.9">16.8</text>
<text x="672.25" y="616.20" text-anchor="middle" font-size="11.5">8</text>
<text x="9.80" y="639.90" font-size="10.6" style="font-family:'Noto Sans CJK JP',sans-serif"><tspan font-size="8.6" dy="-0.6">●</tspan><tspan dx="2" dy="0.6">（</tspan>　）内吐出し口径に変更可能です。</text>
<text x="9.80" y="652.60" font-size="10.6" style="font-family:'Noto Sans CJK JP',sans-serif"><tspan font-size="8.6" dy="-0.6">●</tspan><tspan dx="2" dy="0.6">表</tspan>示質量は、ケーブルを除くポンプ単体の質量です。</text>
</g>
</svg>
</body>
</html>
